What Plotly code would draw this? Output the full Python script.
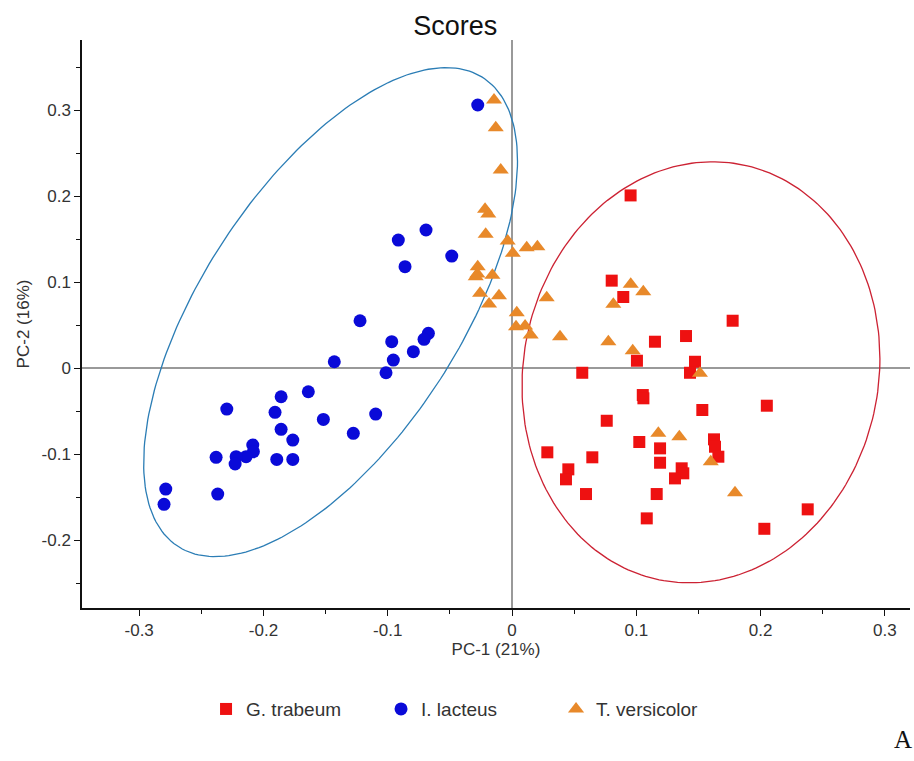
import numpy as np
import plotly.graph_objects as go

# ---- data ----
gt_x = [0.0954, 0.0802, 0.0895, 0.1775, 0.1150, 0.1400, 0.1005, 0.1472, 0.1432, 0.0565,
        0.1052, 0.1057, 0.1531, 0.2050, 0.0762, 0.1024, 0.1625, 0.1633, 0.1660, 0.1191,
        0.1191, 0.0284, 0.0646, 0.0453, 0.0434, 0.1365, 0.1378, 0.1311, 0.0595, 0.1164,
        0.1084, 0.2379, 0.2030]
gt_y = [0.2007, 0.1016, 0.0826, 0.0550, 0.0306, 0.0372, 0.0085, 0.0073, -0.0055, -0.0055,
        -0.0314, -0.0352, -0.0488, -0.0438, -0.0613, -0.0860, -0.0829, -0.0915, -0.1031, -0.0934,
        -0.1101, -0.0980, -0.1038, -0.1178, -0.1294, -0.1166, -0.1224, -0.1283, -0.1465, -0.1465,
        -0.1748, -0.1643, -0.1869]

il_x = [-0.0276, -0.0915, -0.0692, -0.0861, -0.0485, -0.1223, -0.0968, -0.0673, -0.0708, -0.0794,
        -0.0955, -0.1430, -0.1014, -0.1639, -0.1858, -0.2295, -0.1907, -0.1518, -0.1097, -0.1858,
        -0.1764, -0.1277, -0.2086, -0.2081, -0.2140, -0.2220, -0.2228, -0.2381, -0.1893, -0.1764,
        -0.2786, -0.2800, -0.2368]
il_y = [0.3058, 0.1488, 0.1605, 0.1178, 0.1302, 0.0550, 0.0306, 0.0403, 0.0334, 0.0190,
        0.0093, 0.0073, -0.0055, -0.0276, -0.0334, -0.0477, -0.0515, -0.0597, -0.0535, -0.0713,
        -0.0837, -0.0759, -0.0895, -0.0973, -0.1031, -0.1031, -0.1116, -0.1038, -0.1062, -0.1062,
        -0.1407, -0.1585, -0.1465]

tv_x = [-0.0145, -0.0131, -0.0091, -0.0217, -0.0191, -0.0212, -0.0035, 0.0006, 0.0118, 0.0204,
        -0.0276, -0.0279, -0.0292, -0.0158, -0.0257, -0.0105, -0.0185, 0.0279, 0.0955, 0.1056,
        0.0815, 0.0038, 0.0032, 0.0105, 0.0150, 0.0386, 0.0775, 0.0971, 0.1512, 0.1177,
        0.1346, 0.1599, 0.1794]
tv_y = [0.3116, 0.2794, 0.2302, 0.1845, 0.1791, 0.1555, 0.1477, 0.1334, 0.1399, 0.1410,
        0.1178, 0.1093, 0.1062, 0.1078, 0.0869, 0.0841, 0.0744, 0.0817, 0.0973, 0.0887,
        0.0741, 0.0643, 0.0480, 0.0488, 0.0384, 0.0364, 0.0306, 0.0201, -0.0062, -0.0759,
        -0.0799, -0.1090, -0.1450]

# confidence ellipses: centre, x half-extent, y half-extent, covariance term
il_ell = dict(cx=-0.146, cy=0.065, sx=0.1504, sy=0.2843, sxy=0.0264)
gt_ell = dict(cx=0.152, cy=-0.005, sx=0.144, sy=0.2448, sxy=0.0023)

x_ticks = [-0.3, -0.2, -0.1, 0, 0.1, 0.2, 0.3]
x_labels = ["-0.3", "-0.2", "-0.1", "0", "0.1", "0.2", "0.3"]
y_ticks = [-0.2, -0.1, 0, 0.1, 0.2, 0.3]
y_labels = ["-0.2", "-0.1", "0", "0.1", "0.2", "0.3"]


def ellipse(p, n=241):
    t = np.linspace(0, 2 * np.pi, n)
    M = np.array([[p["sx"] ** 2, p["sxy"]], [p["sxy"], p["sy"] ** 2]])
    L = np.linalg.cholesky(M)
    pts = L @ np.vstack([np.cos(t), np.sin(t)])
    return p["cx"] + pts[0], p["cy"] + pts[1]


fig = go.Figure()
ex, ey = ellipse(il_ell)
fig.add_trace(go.Scatter(x=ex, y=ey, mode="lines", line=dict(color="#2b7db5", width=1.3),
                         showlegend=False, hoverinfo="skip"))
ex, ey = ellipse(gt_ell)
fig.add_trace(go.Scatter(x=ex, y=ey, mode="lines", line=dict(color="#cc2233", width=1.3),
                         showlegend=False, hoverinfo="skip"))

fig.add_trace(go.Scatter(x=gt_x, y=gt_y, mode="markers", name="G. trabeum",
                         marker=dict(symbol="square", size=12, color="#ee1111",
                                     line=dict(width=0))))
fig.add_trace(go.Scatter(x=il_x, y=il_y, mode="markers", name="I. lacteus",
                         marker=dict(symbol="circle", size=13, color="#0a0ad8",
                                     line=dict(width=0))))
fig.add_trace(go.Scatter(x=tv_x, y=tv_y, mode="markers", name="T. versicolor",
                         marker=dict(symbol="triangle-up", size=14, color="#e8892a",
                                     line=dict(width=0))))

FONT = "Liberation Sans, Arial, sans-serif"
tick_font = dict(family=FONT, size=17, color="#333333")
title_font = dict(family=FONT, size=17, color="#333333")

fig.update_layout(
    width=914, height=761,
    margin=dict(l=82, r=4, t=40, b=153),
    paper_bgcolor="white", plot_bgcolor="white",
    title=dict(text="Scores", x=0.498, xanchor="center", y=0.967, yanchor="middle",
               font=dict(family=FONT, size=27, color="#111111")),
    xaxis=dict(range=[-0.346, 0.3202], tickvals=x_ticks, ticktext=x_labels,
               showgrid=False, zeroline=True, zerolinecolor="#999999", zerolinewidth=1.5,
               showline=True, linecolor="#111111", linewidth=1.5,
               ticks="outside", ticklen=6, tickcolor="#111111", tickfont=tick_font,
               minor=dict(dtick=0.05, tick0=0, ticks="outside", ticklen=4, tickcolor="#111111"),
               title=dict(text="PC-1 (21%)", font=title_font, standoff=2)),
    yaxis=dict(range=[-0.279, 0.3814], tickvals=y_ticks, ticktext=y_labels,
               showgrid=False, zeroline=True, zerolinecolor="#999999", zerolinewidth=1.5,
               showline=True, linecolor="#111111", linewidth=1.5,
               ticks="outside", ticklen=6, tickcolor="#111111", tickfont=tick_font,
               minor=dict(dtick=0.05, tick0=0, ticks="outside", ticklen=4, tickcolor="#111111"),
               title=dict(text="PC-2 (16%)", font=title_font, standoff=8)),
    legend=dict(orientation="h", x=0.1498, xanchor="left", y=-0.178, yanchor="middle",
                font=dict(family=FONT, size=19, color="#333333"),
                entrywidth=130, entrywidthmode="pixels", bgcolor="rgba(0,0,0,0)"),
    annotations=[dict(text="A", xref="paper", yref="paper", x=0.9915, y=-0.232,
                      xanchor="center", yanchor="middle", showarrow=False,
                      font=dict(family="Liberation Serif, DejaVu Serif, serif", size=25,
                                color="#111111"))],
)

fig.write_html("out.html")
